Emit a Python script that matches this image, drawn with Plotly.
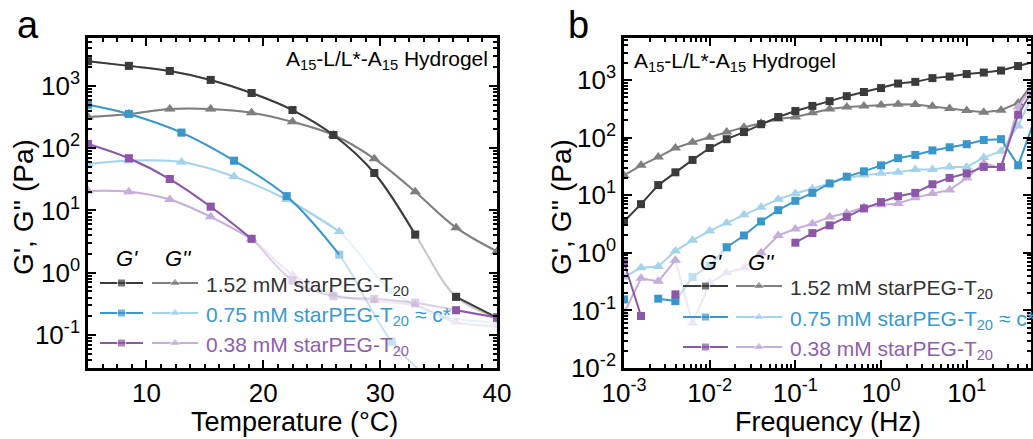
import plotly.graph_objects as go

W, H = 1033, 439
FONT = "Liberation Sans, Arial, sans-serif"

# ---------------- panel a : temperature sweep ----------------
T_a = [5, 8.5, 12, 15.5, 19, 22.5, 26, 29.5, 33, 36.5, 40]
T_a075 = [5, 8.5, 13, 17.5, 22, 26.5, 31, 35.5, 40]
G1_a = [2500, 2100, 1740, 1250, 770, 410, 163, 40, 4.1, 0.41, 0.19]
G1pp_a = [316, 355, 427, 427, 371, 265, 163, 68, 20, 5.3, 2.2]
G2_a = [500, 355, 178, 63, 17, 1.95, 0.078, 0.012, None]
G2pp_a = [56, 63, 60, 35, 15, 4.6, 0.5, 0.2, 0.16]
G3_a = [117, 69, 32, 11.5, 3.5, 0.75, 0.42, 0.38, 0.33, 0.25, 0.19]
G3pp_a = [20.5, 20, 15, 7.9, 3.5, 0.93, 0.45, 0.35, 0.30, 0.16, 0.14]

# ---------------- panel b : frequency sweep ----------------
F_b = [0.001, 0.00158, 0.00251, 0.00398, 0.00631, 0.01, 0.0158, 0.0251, 0.0398,
       0.0631, 0.1, 0.158, 0.251, 0.398, 0.631, 1.0, 1.58, 2.51, 3.98, 6.31,
       10.0, 15.8, 25.1, 39.8, 63.1]
G1_b = [3.5, 7.0, 15, 25, 41, 66, 94, 125, 171, 228, 290, 355, 430, 525, 620,
        725, 870, 930, 1080, 1150, 1270, 1350, 1460, 1750, 2100]
G1pp_b = [22, 33, 46, 66, 83, 102, 125, 152, 178, 210, 228, 270, 315, 340, 355,
          370, 380, 375, 350, 320, 295, 275, 300, 400, 1000]
G2_b = [0.155, None, 0.16, 0.145, None, None, 1.25, 2.0, 3.5, 5.5, 8.0, 11, 16,
        21, 26, 33, 44, 50, 60, 68, 77, 91, 94, 33, 220]
G2pp_b = [0.38, 0.55, 0.58, 1.08, 1.65, 2.4, 3.3, 4.6, 6.2, 8.5, 10.7, 13, 16,
          20, 22.5, 24, 25, 28, 28, 31, 31, 45, 58, 160, 700]
G3_b = [0.68, 0.08, None, 0.19, None, None, None, None, None, None, 1.5, 2.2,
        3.0, 4.2, 5.9, 7.6, 9.6, 11, 15.5, 20, 24, 31, 31, 250, 800]
G3pp_b = [0.09, 0.36, 0.32, 0.74, None, None, None, None, 1.0, 2.0, 2.6, 3.2,
          4.2, 4.9, 6.2, 6.8, 7.2, 9.0, 10.7, 12.3, 20, 36, 29.5, 340, 900]
# low-torque (unreliable) points, drawn faded
G2_b_low = [None, None, None, 0.145, 0.38, 0.6, 1.25] + [None] * 18
G3pp_b_low = [None, None, None, 0.74, 0.06, 0.3, 0.45, 0.55, 1.0] + [None] * 16

C_DARK, C_GRAY = "#3b3b3b", "#7f7f7f"
C_BLUE, C_LBLUE = "#3a97cc", "#a6d3ec"
C_PURP, C_LPURP = "#8c57a8", "#c6aedb"
TXT = {"dark": "#333333", "blue": "#3b98cc", "purp": "#8f5fab"}
FADE = 0.28

fig = go.Figure()


def add_a(x, y, color, symbol, size, solid_segs, faded_markers=()):
    # faded full curve (below the instrument limit)
    fig.add_trace(go.Scatter(x=x, y=y, mode="lines+markers", line=dict(color=color, width=2, shape="spline"),
                             marker=dict(symbol=symbol, size=size, color=color), opacity=FADE,
                             connectgaps=False, xaxis="x", yaxis="y", showlegend=False))
    for a, b in solid_segs:
        op = [FADE if i in faded_markers else 1.0 for i in range(a, b + 1)]
        fig.add_trace(go.Scatter(x=x[a:b + 1], y=y[a:b + 1], mode="lines+markers",
                                 line=dict(color=color, width=2, shape="spline"),
                                 marker=dict(symbol=symbol, size=size, color=color, opacity=op),
                                 xaxis="x", yaxis="y", showlegend=False))


add_a(T_a, G1pp_a, C_GRAY, "triangle-up", 10, [(0, 10)])
add_a(T_a, G1_a, C_DARK, "square", 8, [(0, 8), (9, 10)])
add_a(T_a075, G2pp_a, C_LBLUE, "triangle-up", 10, [(0, 5)])
add_a(T_a075, G2_a, C_BLUE, "square", 8, [(0, 5)], faded_markers=(5,))
add_a(T_a, G3pp_a, C_LPURP, "triangle-up", 10, [(0, 4)])
add_a(T_a, G3_a, C_PURP, "square", 8, [(0, 4), (9, 10)])


def add_b(y, color, symbol, size, faded=False):
    fig.add_trace(go.Scatter(x=F_b, y=y, mode="lines+markers", line=dict(color=color, width=2),
                             marker=dict(symbol=symbol, size=size, color=color),
                             opacity=0.3 if faded else 1.0, connectgaps=False,
                             xaxis="x2", yaxis="y2", showlegend=False))


add_b(G2_b_low, C_BLUE, "square", 8, faded=True)
add_b(G3pp_b_low, C_LPURP, "triangle-up", 10, faded=True)
add_b(G1pp_b, C_GRAY, "triangle-up", 10)
add_b(G1_b, C_DARK, "square", 8)
add_b(G2pp_b, C_LBLUE, "triangle-up", 10)
add_b(G2_b, C_BLUE, "square", 8)
add_b(G3pp_b, C_LPURP, "triangle-up", 10)
add_b(G3_b, C_PURP, "square", 8)

# ---------------- custom legends (pixel overlay axis) ----------------
legend_rows = [
    ("1.52 mM starPEG-T<sub>20</sub>", C_DARK, C_GRAY, TXT["dark"]),
    ("0.75 mM starPEG-T<sub>20</sub> ≈ c*", C_BLUE, C_LBLUE, TXT["blue"]),
    ("0.38 mM starPEG-T<sub>20</sub>", C_PURP, C_LPURP, TXT["purp"]),
]
legend_layouts = [
    dict(g1=(100, 143), g2=(152, 198), text_x=204, rows=[283, 313, 343], head_y=258, head_x=(127, 178)),
    dict(g1=(683, 728), g2=(736, 782), text_x=788, rows=[286, 317, 347], head_y=262, head_x=(711, 761)),
]
annotations = []
for L in legend_layouts:
    for (label, c1, c2, tc), ry in zip(legend_rows, L["rows"]):
        for (x0, x1), col, sym, sz in [(L["g1"], c1, "square", 8), (L["g2"], c2, "triangle-up", 10)]:
            fig.add_trace(go.Scatter(x=[x0, (x0 + x1) / 2, x1], y=[ry, ry, ry], mode="lines+markers",
                                     line=dict(color=col, width=2.2),
                                     marker=dict(symbol=sym, size=[0, sz, 0], color=col),
                                     xaxis="x3", yaxis="y3", showlegend=False, hoverinfo="skip"))
        annotations.append(dict(x=L["text_x"] / W, y=1 - (ry + 3) / H, xref="paper", yref="paper",
                                text=label, showarrow=False, xanchor="left", yanchor="middle",
                                font=dict(size=21, color=tc, family=FONT)))
    for hx, ht in zip(L["head_x"], ["<i>G'</i>", "<i>G''</i>"]):
        annotations.append(dict(x=hx / W, y=1 - L["head_y"] / H, xref="paper", yref="paper", text=ht,
                                showarrow=False, xanchor="center", yanchor="middle",
                                font=dict(size=22, color="black", family=FONT)))


def ann(x, y, text, size, xanchor="center", angle=0, color="black"):
    annotations.append(dict(x=x / W, y=1 - y / H, xref="paper", yref="paper", text=text, showarrow=False,
                            xanchor=xanchor, yanchor="middle", textangle=angle,
                            font=dict(size=size, color=color, family=FONT)))


ann(28, 25, "a", 38)
ann(578, 25, "b", 38)
ann(490, 60, "A<sub>15</sub>-L/L*-A<sub>15</sub> Hydrogel", 21, xanchor="right")
ann(632, 62, "A<sub>15</sub>-L/L*-A<sub>15</sub> Hydrogel", 21, xanchor="left")
ann(294, 422, "Temperature (°C)", 27)
ann(828, 422, "Frequency (Hz)", 27)
ann(23, 207, "G', G'' (Pa)", 28, angle=-90)
ann(561, 207, "G', G'' (Pa)", 28, angle=-90)

minor_log = [m * 10 ** e for e in range(-4, 4) for m in range(2, 10)]


def log_axis(vals):
    return dict(type="log", tickmode="array", tickvals=[10 ** e for e in vals],
                ticktext=["10<sup>%d</sup>" % e for e in vals])


common = dict(showline=True, linecolor="black", linewidth=2.6, mirror="allticks", ticks="inside",
              ticklen=8, tickwidth=2, tickcolor="black", showgrid=False, zeroline=False, automargin=False,
              tickfont=dict(size=26, family=FONT, color="black"),
              minor=dict(ticks="inside", ticklen=4, tickwidth=1.5, tickcolor="black", showgrid=False))

xa = dict(common, domain=[88 / W, 497 / W], anchor="y", range=[5, 40], tickmode="array",
          tickvals=[10, 20, 30, 40])
xa["minor"] = dict(common["minor"], tickmode="array", tickvals=[5 + 1.25 * k for k in range(29)])
ya = dict(common, domain=[1 - 368 / H, 1 - 38 / H], anchor="x", range=[-1.53, 3.77],
          **log_axis([-1, 0, 1, 2, 3]))
ya["minor"] = dict(common["minor"], tickmode="array", tickvals=minor_log)
xb = dict(common, domain=[624 / W, 1031 / W], anchor="y2", range=[-3, 1.75], **log_axis([-3, -2, -1, 0, 1]))
xb["minor"] = dict(common["minor"], tickmode="array", tickvals=minor_log)
yb = dict(common, domain=[1 - 368 / H, 1 - 38 / H], anchor="x2", range=[-2, 3.73],
          **log_axis([-2, -1, 0, 1, 2, 3]))
yb["minor"] = dict(common["minor"], tickmode="array", tickvals=minor_log)

fig.update_layout(
    width=W, height=H, margin=dict(l=0, r=0, t=0, b=0, autoexpand=False),
    paper_bgcolor="white", plot_bgcolor="rgba(0,0,0,0)",
    font=dict(family=FONT, color="black"),
    xaxis=xa, yaxis=ya, xaxis2=xb, yaxis2=yb,
    xaxis3=dict(domain=[0, 1], range=[0, W], visible=False, anchor="y3", fixedrange=True, automargin=False),
    yaxis3=dict(domain=[0, 1], range=[H, 0], visible=False, anchor="x3", fixedrange=True, automargin=False),
    annotations=annotations, showlegend=False,
)
fig.write_html("out.html")
